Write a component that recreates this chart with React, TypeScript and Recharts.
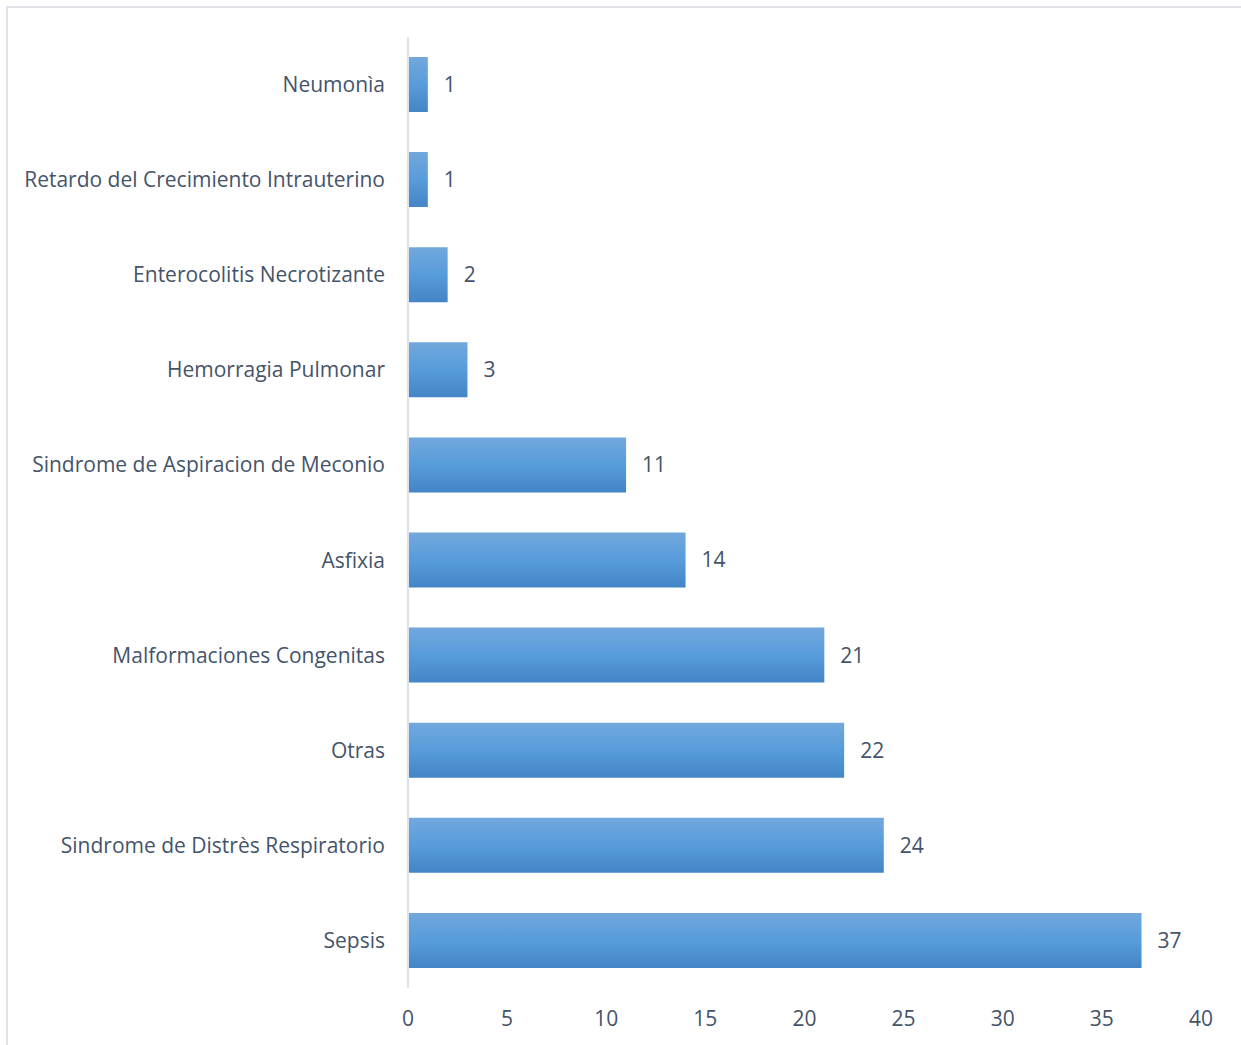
import React from "react";
import { BarChart, Bar, XAxis, YAxis, LabelList } from "recharts";

const causes = [
  "Neumonìa",
  "Retardo del Crecimiento Intrauterino",
  "Enterocolitis Necrotizante",
  "Hemorragia Pulmonar",
  "Sindrome de Aspiracion de Meconio",
  "Asfixia",
  "Malformaciones Congenitas",
  "Otras",
  "Sindrome de Distrès Respiratorio",
  "Sepsis",
];
const cases = [1, 1, 2, 3, 11, 14, 21, 22, 24, 37];
const xTicks = [0, 5, 10, 15, 20, 25, 30, 35, 40];

const data = causes.map((name, i) => ({ name, value: cases[i] }));

const FONT = "'Open Sans', Lato, sans-serif";
const TEXT = "#44546a";
const FS = 21;

const App = () => {
  return (
    <div style={{ position: "absolute", left: 0, top: 0, width: 1241, height: 1045, background: "#fff", overflow: "hidden" }}>
      <div
        style={{
          position: "absolute",
          left: 6,
          top: 6,
          width: 1250,
          height: 1060,
          border: "2px solid #e0e4ea",
          boxSizing: "border-box",
        }}
      />
      <BarChart
        layout="vertical"
        width={1241}
        height={1045}
        data={data}
        margin={{ top: 37, right: 40, left: 0, bottom: 0 }}
        style={{ position: "absolute", left: 0, top: 0, fontFamily: FONT }}
      >
        <defs>
          <linearGradient id="barGrad" x1="0" y1="0" x2="0" y2="1">
            <stop offset="0%" stopColor="#72a8dd" />
            <stop offset="50%" stopColor="#579cdb" />
            <stop offset="100%" stopColor="#4385c6" />
          </linearGradient>
        </defs>
        <XAxis
          type="number"
          domain={[0, 40]}
          ticks={xTicks}
          height={57}
          axisLine={false}
          tickLine={false}
          tickSize={0}
          tickMargin={23}
          tick={{ fill: TEXT, fontSize: FS, fontFamily: FONT }}
        />
        <YAxis
          type="category"
          dataKey="name"
          width={408}
          axisLine={{ stroke: "#dde2e8", strokeWidth: 2 }}
          tickLine={false}
          tickSize={0}
          tickMargin={23}
          interval={0}
          tick={{ fill: TEXT, fontSize: FS, fontFamily: FONT }}
        />
        <Bar dataKey="value" fill="url(#barGrad)" barSize={55} isAnimationActive={false}>
          <LabelList dataKey="value" position="right" offset={16} fill={TEXT} fontSize={FS} fontFamily={FONT} />
        </Bar>
      </BarChart>
    </div>
  );
};

export default App;
